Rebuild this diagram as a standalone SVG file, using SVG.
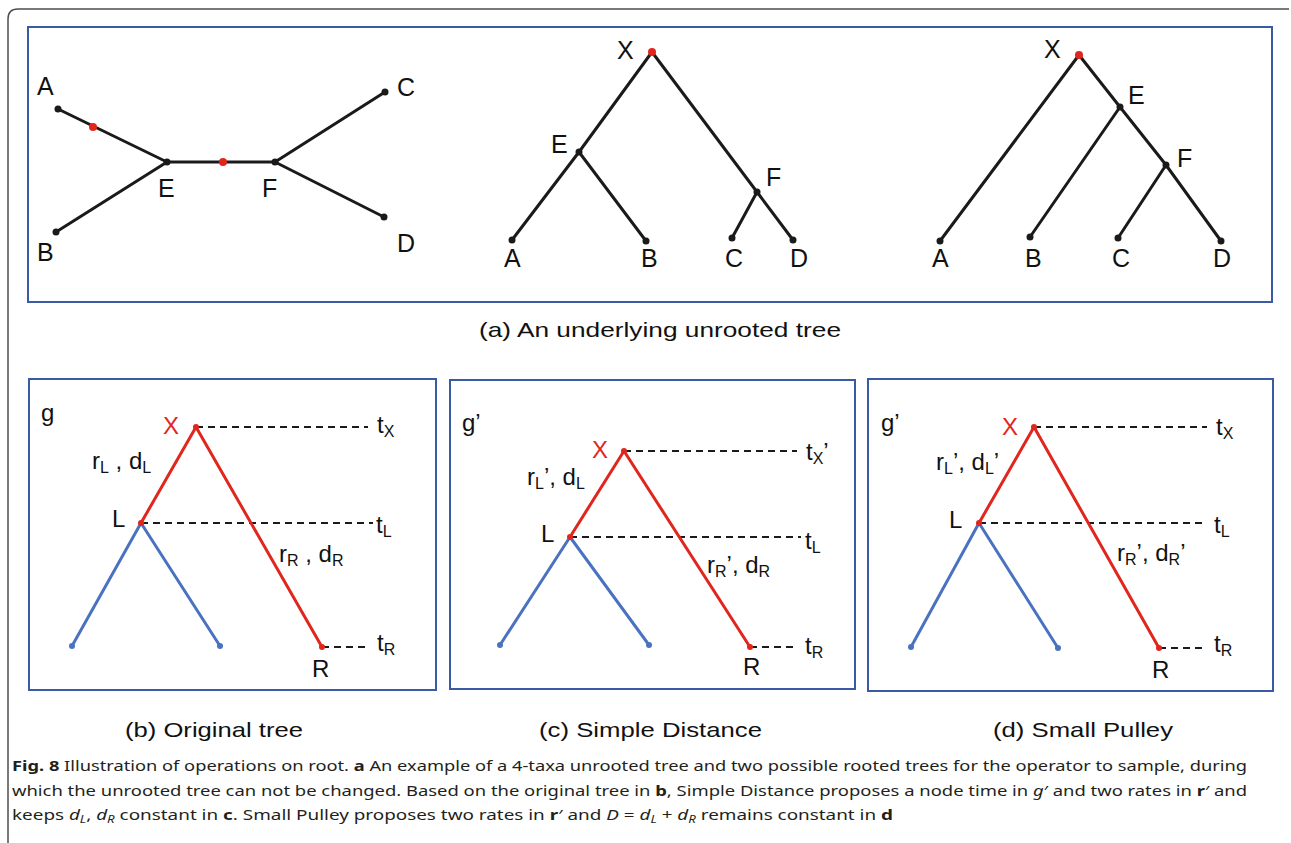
<svg xmlns="http://www.w3.org/2000/svg" width="1291" height="843" viewBox="0 0 1291 843">
<style>
.frame{fill:none;stroke:#4d4d4d;stroke-width:1.5}
.panel{fill:#fff;stroke:#3b5aa6;stroke-width:2}
.edge{stroke:#1a1a1a;stroke-width:3;stroke-linecap:round;fill:none}
.red{stroke:#e0261d;stroke-width:3;stroke-linecap:round;fill:none}
.blue{stroke:#4a72c0;stroke-width:3;stroke-linecap:round;fill:none}
.dash{stroke:#1a1a1a;stroke-width:1.8;stroke-dasharray:7 5;fill:none}
.bd{fill:#1a1a1a}
.rd{fill:#e0261d}
.bl{fill:#4a72c0}
.lab{font-family:"Liberation Sans",Arial,sans-serif;font-size:25px;fill:#111}
.lb{font-family:"Liberation Sans",Arial,sans-serif;font-size:24px;fill:#111}
.lr{font-family:"Liberation Sans",Arial,sans-serif;font-size:24px;fill:#e0261d}
.sub{font-size:16px}
.cap{font-family:"Liberation Sans",Arial,sans-serif;font-size:21px;fill:#111}
.fig{font-family:"Noto Sans","Open Sans",sans-serif;font-size:15px;fill:#231f20}
.b{font-weight:bold}
.i{font-style:italic}
.s{font-style:italic;font-size:10.5px}
</style>
<path class="frame" d="M8,843 V19 Q8,9 18,9 H1289"/>

<!-- Panel (a) -->
<rect id="panel-a" class="panel" x="28" y="27" width="1244" height="275"/>
<g id="a-connectors">
  <path class="edge" d="M58,109 L167,162 M56,232 L167,162 M167,162 L275,162 M275,162 L385,92 M275,162 L384,217"/>
  <path class="edge" d="M652,52 L579,152 L512,240 M579,152 L646,241 M652,52 L757,192 L793,240 M757,192 L732,238"/>
  <path class="edge" d="M1079,55 L940,241 M1079,55 L1120,107 L1166,165 L1221,241 M1120,107 L1030,237 M1166,165 L1118,238"/>
</g>
<g id="u-A"><circle class="bd" cx="58" cy="109" r="3.5"/><text class="lab" x="37" y="95">A</text></g>
<g id="u-B"><circle class="bd" cx="56" cy="232" r="3.5"/><text class="lab" x="37" y="261">B</text></g>
<g id="u-E"><circle class="bd" cx="167" cy="162" r="3.5"/><text class="lab" x="158" y="197">E</text></g>
<g id="u-F"><circle class="bd" cx="275" cy="162" r="3.5"/><text class="lab" x="262" y="197">F</text></g>
<g id="u-C"><circle class="bd" cx="385" cy="92" r="3.5"/><text class="lab" x="397" y="96">C</text></g>
<g id="u-D"><circle class="bd" cx="384" cy="217" r="3.5"/><text class="lab" x="397" y="252">D</text></g>
<g id="u-root1"><circle class="rd" cx="93" cy="127" r="4"/></g>
<g id="u-root2"><circle class="rd" cx="223" cy="162" r="4"/></g>

<g id="m-X"><circle class="rd" cx="652" cy="52" r="4"/><text class="lab" x="617" y="59">X</text></g>
<g id="m-E"><circle class="bd" cx="579" cy="152" r="3.5"/><text class="lab" x="551" y="153">E</text></g>
<g id="m-F"><circle class="bd" cx="757" cy="192" r="3.5"/><text class="lab" x="766" y="186">F</text></g>
<g id="m-A"><circle class="bd" cx="512" cy="240" r="3.5"/><text class="lab" x="504" y="267">A</text></g>
<g id="m-B"><circle class="bd" cx="646" cy="241" r="3.5"/><text class="lab" x="641" y="267">B</text></g>
<g id="m-C"><circle class="bd" cx="732" cy="238" r="3.5"/><text class="lab" x="725" y="267">C</text></g>
<g id="m-D"><circle class="bd" cx="793" cy="240" r="3.5"/><text class="lab" x="790" y="267">D</text></g>

<g id="r-X"><circle class="rd" cx="1079" cy="55" r="4"/><text class="lab" x="1044" y="58">X</text></g>
<g id="r-E"><circle class="bd" cx="1120" cy="107" r="3.5"/><text class="lab" x="1128" y="104">E</text></g>
<g id="r-F"><circle class="bd" cx="1166" cy="165" r="3.5"/><text class="lab" x="1177" y="167">F</text></g>
<g id="r-A"><circle class="bd" cx="940" cy="241" r="3.5"/><text class="lab" x="932" y="267">A</text></g>
<g id="r-B"><circle class="bd" cx="1030" cy="237" r="3.5"/><text class="lab" x="1025" y="267">B</text></g>
<g id="r-C"><circle class="bd" cx="1118" cy="238" r="3.5"/><text class="lab" x="1112" y="267">C</text></g>
<g id="r-D"><circle class="bd" cx="1221" cy="241" r="3.5"/><text class="lab" x="1213" y="267">D</text></g>

<text class="cap" x="479" y="337" textLength="362" lengthAdjust="spacingAndGlyphs">(a) An underlying unrooted tree</text>

<!-- Panel (b) -->
<rect id="panel-b" class="panel" x="29" y="379" width="407" height="311"/>
<g id="b-connectors">
  <path class="dash" d="M196,427 H368 M141,523 H373 M322,647 H367"/>
  <path class="blue" d="M141,523 L72,646 M141,523 L220,646"/>
  <path class="red" d="M196,427 L141,523 M196,427 L322,647"/>
</g>
<text class="lb" x="41" y="421">g</text>
<g id="b-X"><circle class="rd" cx="196" cy="427" r="3"/><text class="lr" x="163" y="434">X</text></g>
<g id="b-L"><circle class="rd" cx="141" cy="523" r="3"/><text class="lb" x="112" y="527">L</text></g>
<g id="b-R"><circle class="rd" cx="322" cy="647" r="3"/><text class="lb" x="312" y="677">R</text></g>
<g id="b-l1"><circle class="bl" cx="72" cy="646" r="3"/></g>
<g id="b-l2"><circle class="bl" cx="220" cy="646" r="3"/></g>
<text class="lb" x="377" y="433">t<tspan class="sub" dy="4">X</tspan></text>
<text class="lb" x="376" y="533">t<tspan class="sub" dy="4">L</tspan></text>
<text class="lb" x="377" y="651">t<tspan class="sub" dy="4">R</tspan></text>
<text class="lb" x="92" y="469">r<tspan class="sub" dy="4">L</tspan><tspan dy="-4">  , d</tspan><tspan class="sub" dy="4">L</tspan></text>
<text class="lb" x="279" y="562">r<tspan class="sub" dy="4">R</tspan><tspan dy="-4">  , d</tspan><tspan class="sub" dy="4">R</tspan></text>

<!-- Panel (c) -->
<rect id="panel-c" class="panel" x="450" y="380" width="405" height="309"/>
<g id="c-connectors">
  <path class="dash" d="M624,451 H797 M570,537 H801 M750,647 H796"/>
  <path class="blue" d="M570,537 L500,645 M570,537 L649,645"/>
  <path class="red" d="M624,451 L570,537 M624,451 L750,647"/>
</g>
<text class="lb" x="462" y="431">g’</text>
<g id="c-X"><circle class="rd" cx="624" cy="451" r="3"/><text class="lr" x="592" y="458">X</text></g>
<g id="c-L"><circle class="rd" cx="570" cy="537" r="3"/><text class="lb" x="541" y="542">L</text></g>
<g id="c-R"><circle class="rd" cx="750" cy="647" r="3"/><text class="lb" x="743" y="675">R</text></g>
<g id="c-l1"><circle class="bl" cx="500" cy="645" r="3"/></g>
<g id="c-l2"><circle class="bl" cx="649" cy="645" r="3"/></g>
<text class="lb" x="806" y="460">t<tspan class="sub" dy="4">X</tspan><tspan dy="-4">’</tspan></text>
<text class="lb" x="805" y="549">t<tspan class="sub" dy="4">L</tspan></text>
<text class="lb" x="805" y="654">t<tspan class="sub" dy="4">R</tspan></text>
<text class="lb" x="527" y="485">r<tspan class="sub" dy="4">L</tspan><tspan dy="-4">’, d</tspan><tspan class="sub" dy="4">L</tspan></text>
<text class="lb" x="707" y="573">r<tspan class="sub" dy="4">R</tspan><tspan dy="-4">’, d</tspan><tspan class="sub" dy="4">R</tspan></text>

<!-- Panel (d) -->
<rect id="panel-d" class="panel" x="868" y="379" width="405" height="312"/>
<g id="d-connectors">
  <path class="dash" d="M1034,427 H1207 M979,523 H1207 M1159,648 H1205"/>
  <path class="blue" d="M979,523 L911,647 M979,523 L1058,648"/>
  <path class="red" d="M1034,427 L979,523 M1034,427 L1159,648"/>
</g>
<text class="lb" x="881" y="431">g’</text>
<g id="d-X"><circle class="rd" cx="1034" cy="427" r="3"/><text class="lr" x="1002" y="435">X</text></g>
<g id="d-L"><circle class="rd" cx="979" cy="523" r="3"/><text class="lb" x="949" y="528">L</text></g>
<g id="d-R"><circle class="rd" cx="1159" cy="648" r="3"/><text class="lb" x="1152" y="678">R</text></g>
<g id="d-l1"><circle class="bl" cx="911" cy="647" r="3"/></g>
<g id="d-l2"><circle class="bl" cx="1058" cy="648" r="3"/></g>
<text class="lb" x="1216" y="435">t<tspan class="sub" dy="4">X</tspan></text>
<text class="lb" x="1214" y="533">t<tspan class="sub" dy="4">L</tspan></text>
<text class="lb" x="1214" y="652">t<tspan class="sub" dy="4">R</tspan></text>
<text class="lb" x="936" y="470">r<tspan class="sub" dy="4">L</tspan><tspan dy="-4">’, d</tspan><tspan class="sub" dy="4">L</tspan><tspan dy="-4">’</tspan></text>
<text class="lb" x="1117" y="561">r<tspan class="sub" dy="4">R</tspan><tspan dy="-4">’, d</tspan><tspan class="sub" dy="4">R</tspan><tspan dy="-4">’</tspan></text>

<text class="cap" x="125" y="737" textLength="178" lengthAdjust="spacingAndGlyphs">(b) Original tree</text>
<text class="cap" x="539" y="737" textLength="223" lengthAdjust="spacingAndGlyphs">(c) Simple Distance</text>
<text class="cap" x="993" y="737" textLength="180" lengthAdjust="spacingAndGlyphs">(d) Small Pulley</text>

<text class="fig" x="12" y="771" textLength="1235" lengthAdjust="spacingAndGlyphs"><tspan class="b">Fig. 8</tspan> Illustration of operations on root. <tspan class="b">a</tspan> An example of a 4-taxa unrooted tree and two possible rooted trees for the operator to sample, during</text>
<text class="fig" x="12" y="796" textLength="1235" lengthAdjust="spacingAndGlyphs">which the unrooted tree can not be changed. Based on the original tree in <tspan class="b">b</tspan>, Simple Distance proposes a node time in <tspan class="i">g</tspan>′ and two rates in <tspan class="b">r</tspan>′ and</text>
<text class="fig" x="12" y="820" textLength="881" lengthAdjust="spacingAndGlyphs">keeps <tspan class="i">d</tspan><tspan class="s" dy="3">L</tspan><tspan dy="-3">, </tspan><tspan class="i">d</tspan><tspan class="s" dy="3">R</tspan><tspan dy="-3"> constant in </tspan><tspan class="b">c</tspan>. Small Pulley proposes two rates in <tspan class="b">r</tspan>′ and <tspan class="i">D</tspan> = <tspan class="i">d</tspan><tspan class="s" dy="3">L</tspan><tspan dy="-3"> + </tspan><tspan class="i">d</tspan><tspan class="s" dy="3">R</tspan><tspan dy="-3"> remains constant in </tspan><tspan class="b">d</tspan></text>
</svg>
